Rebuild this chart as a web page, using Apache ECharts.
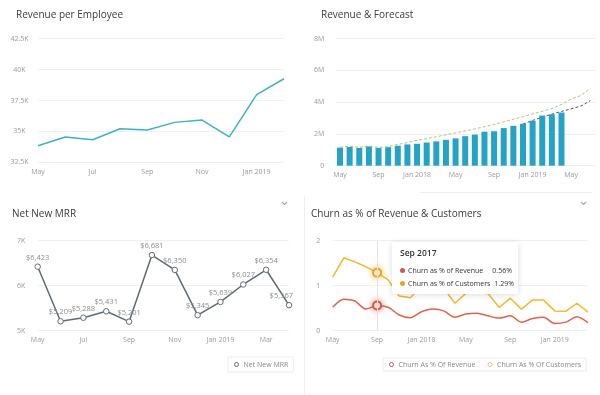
<!DOCTYPE html>
<html>
<head>
<meta charset="utf-8">
<script src="https://cdn.jsdelivr.net/npm/echarts@6/dist/echarts.min.js"></script>
<style>
html,body{margin:0;padding:0;background:#fff;}
#c{width:600px;height:395px;}
</style>
</head>
<body>
<div id="c"></div>
<script>
// ---------- data ----------
const rpeMonths = ['May 2018','Jun 2018','Jul 2018','Aug 2018','Sep 2018','Oct 2018','Nov 2018','Dec 2018','Jan 2019','Feb 2019'];
const rpeValues = [33840, 34550, 34330, 35220, 35110, 35730, 35920, 34550, 37970, 39260];

const revMonths = ['May 2017','Jun 2017','Jul 2017','Aug 2017','Sep 2017','Oct 2017','Nov 2017','Dec 2017',
  'Jan 2018','Feb 2018','Mar 2018','Apr 2018','May 2018','Jun 2018','Jul 2018','Aug 2018','Sep 2018','Oct 2018','Nov 2018','Dec 2018',
  'Jan 2019','Feb 2019','Mar 2019','Apr 2019','May 2019','Jun 2019','Jul 2019'];
const revenueBars = [1.14, 1.18, 1.12, 1.22, 1.12, 1.17, 1.26, 1.34, 1.38, 1.46, 1.53, 1.63, 1.72, 1.86, 1.96, 2.14, 2.17, 2.37, 2.51, 2.64, 2.83, 3.16, 3.24, 3.35];
const forecastHigh = [1.17, 1.23, 1.16, 1.24, 1.15, 1.20, 1.34, 1.46, 1.60, 1.70, 1.82, 1.95, 2.07, 2.19, 2.32, 2.45, 2.60, 2.76, 2.93, 3.08, 3.26, 3.43, 3.60, 3.86, 4.20, 4.42, 4.87];
const forecastLow = [null, null, null, null, null, null, null, null, null, null, null, null, null, null, null, null, null, null, null, 2.62, 2.85, 3.05, 3.25, 3.42, 3.58, 3.75, 4.10];

const mrrMonths = ['May 2018','Jun 2018','Jul 2018','Aug 2018','Sep 2018','Oct 2018','Nov 2018','Dec 2018','Jan 2019','Feb 2019','Mar 2019','Apr 2019'];
const mrrValues = [6423, 5209, 5288, 5431, 5201, 6681, 6350, 5345, 5639, 6027, 6354, 5567];

const churnMonths = ['May 2017','Jun 2017','Jul 2017','Aug 2017','Sep 2017','Oct 2017','Nov 2017','Dec 2017',
  'Jan 2018','Feb 2018','Mar 2018','Apr 2018','May 2018','Jun 2018','Jul 2018','Aug 2018','Sep 2018','Oct 2018','Nov 2018','Dec 2018',
  'Jan 2019','Feb 2019','Mar 2019','Apr 2019'];
const churnRevenue = [0.52, 0.70, 0.66, 0.48, 0.56, 0.52, 0.35, 0.29, 0.42, 0.48, 0.44, 0.30, 0.37, 0.39, 0.33, 0.28, 0.33, 0.19, 0.27, 0.30, 0.16, 0.19, 0.31, 0.18];
const churnCustomers = [1.19, 1.62, 1.53, 1.42, 1.29, 1.13, 0.77, 0.73, 1.00, 1.05, 0.95, 0.61, 0.83, 0.86, 0.82, 0.52, 0.72, 0.48, 0.68, 0.68, 0.44, 0.43, 0.61, 0.41];
const churnLegendNames = ['Churn As % Of Revenue', 'Churn As % Of Customers'];
const churnTooltipNames = ['Churn as % of Revenue', 'Churn as % of Customers'];
const tooltipIndex = 4;

const titles = ['Revenue per Employee', 'Revenue & Forecast', 'Net New MRR', 'Churn as % of Revenue & Customers'];

// ---------- styling ----------
const FONT = 'Open Sans';
const LABEL = '#9a9a9a';
const GRIDC = '#f0f0f0';
const cRev = '#cc5a44';
const cCust = '#e2a62c';
const cMrr = '#5f6b74';

function monthFmt(v) { return v.indexOf('Jan') === 0 ? v : v.split(' ')[0]; }
function comma(n) { return String(n).replace(/\B(?=(\d{3})+(?!\d))/g, ','); }

function xAxis(grid, data, interval, bgap) {
  return {
    type: 'category', gridIndex: grid, data: data, boundaryGap: bgap,
    axisLine: { show: false }, axisTick: { show: false },
    axisLabel: { interval: interval, color: LABEL, fontFamily: FONT, fontSize: 7, margin: 6, formatter: monthFmt },
    splitLine: { show: false }
  };
}
function yAxis(grid, min, max, interval, fmt, align, margin) {
  return {
    type: 'value', gridIndex: grid, min: min, max: max, interval: interval,
    axisLine: { show: false }, axisTick: { show: false },
    axisLabel: { color: LABEL, fontFamily: FONT, fontSize: 7, formatter: fmt, align: align, margin: margin },
    splitLine: { show: true, lineStyle: { color: GRIDC, width: 1 } }
  };
}

const chart = echarts.init(document.getElementById('c'), null, { renderer: 'canvas' });

const titleGraphics = [
  { x: 16, y: 15 }, { x: 321, y: 15 }, { x: 12, y: 214 }, { x: 311, y: 214 }
].map((p, i) => ({
  type: 'text', x: p.x, y: p.y, silent: true,
  style: { text: titles[i], fill: '#3a3a3a', font: '10px "' + FONT + '"', verticalAlign: 'middle' }
}));

const chevron = (x, y) => ({
  type: 'polyline', x: x, y: y, silent: true,
  shape: { points: [[-2.5, -1.5], [0, 1], [2.5, -1.5]] },
  style: { stroke: '#a8a8a8', lineWidth: 1.2, fill: null }
});

const legendBase = {
  itemWidth: 4, itemHeight: 4, icon: 'circle',
  borderColor: '#ececec', borderWidth: 1, backgroundColor: '#fff',
  textStyle: { color: '#888', fontSize: 7, fontFamily: FONT, padding: [0, 0, 0, 0] }
};

const option = {
  animation: false,
  textStyle: { fontFamily: FONT },
  grid: [
    { left: 38, top: 38.7, width: 246, height: 123.6 },
    { left: 335.2, top: 38.7, width: 260, height: 127 },
    { left: 37.7, top: 240.7, width: 251.3, height: 90 },
    { left: 332.7, top: 240.7, width: 255.3, height: 90 }
  ],
  xAxis: [
    xAxis(0, rpeMonths, 1, false),
    xAxis(1, revMonths, 3, true),
    xAxis(2, mrrMonths, 1, false),
    xAxis(3, churnMonths, 3, false)
  ],
  yAxis: [
    yAxis(0, 32500, 42500, 2500, v => (v / 1000) + 'K', 'center', 18.5),
    yAxis(1, 0, 8, 2, v => v === 0 ? '0' : v + 'M', 'right', 11),
    yAxis(2, 5000, 7000, 1000, v => (v / 1000) + 'K', 'right', 12.5),
    yAxis(3, 0, 2, 1, v => String(v), 'right', 12.5)
  ],
  tooltip: {
    trigger: 'axis',
    alwaysShowContent: true,
    showDelay: 0,
    transitionDuration: 0,
    position: [392, 242],
    padding: 0,
    borderWidth: 0,
    backgroundColor: 'rgba(255,255,255,0.98)',
    extraCssText: 'box-shadow:0 1px 6px rgba(0,0,0,0.14);border-radius:2px;',
    axisPointer: { type: 'line', lineStyle: { color: '#e3e3e3', width: 1, type: 'solid' } },
    formatter: function (params) {
      const rows = params.map(p => {
        const i = p.seriesIndex - 5;
        return '<div style="display:flex;justify-content:space-between;align-items:center;height:13px;line-height:13px;white-space:nowrap;">' +
          '<span style="display:flex;align-items:center;"><span style="display:inline-block;width:5px;height:5px;border-radius:50%;background:' + p.color + ';margin-right:3px;"></span>' +
          '<span style="color:#333;">' + churnTooltipNames[i] + '</span></span>' +
          '<span style="color:#333;margin-left:4px;">' + p.value.toFixed(2) + '%</span></div>';
      }).join('');
      return '<div style="width:112px;padding:4px 6px 4px 8px;font-family:\'Open Sans\';font-size:7px;">' +
        '<div style="height:14px;line-height:14px;font-size:8.5px;font-weight:600;color:#333;margin-bottom:4px;">' + params[0].axisValue + '</div>' +
        rows + '</div>';
    }
  },
  legend: [
    Object.assign({}, legendBase, {
      data: [{ name: 'Net New MRR', itemStyle: { color: '#fff', borderColor: cMrr, borderWidth: 1 } }],
      left: 228, top: 357, padding: [4, 5, 4, 6], itemGap: 4
    }),
    Object.assign({}, legendBase, {
      data: [
        { name: churnLegendNames[0], itemStyle: { color: '#fff', borderColor: cRev, borderWidth: 1 } },
        { name: churnLegendNames[1], itemStyle: { color: '#fff', borderColor: '#e8c46a', borderWidth: 1 } }
      ],
      left: 383, top: 358, padding: [3, 5, 3, 6], itemGap: 12
    })
  ],
  series: [
    {
      type: 'line', name: 'Revenue per Employee', xAxisIndex: 0, yAxisIndex: 0, data: rpeValues,
      showSymbol: false, symbol: 'none', lineStyle: { color: '#3db1ca', width: 1.5 }, itemStyle: { color: '#3db1ca' }
    },
    {
      type: 'bar', name: 'Revenue', xAxisIndex: 1, yAxisIndex: 1, data: revenueBars,
      barWidth: 6, itemStyle: { color: '#24a3c7' }, z: 2
    },
    {
      type: 'line', name: 'Forecast High', xAxisIndex: 1, yAxisIndex: 1, data: forecastHigh,
      showSymbol: false, symbol: 'none', z: 3,
      lineStyle: { color: '#b3c272', width: 1, type: [3, 2] }, itemStyle: { color: '#b3c272' }
    },
    {
      type: 'line', name: 'Forecast', xAxisIndex: 1, yAxisIndex: 1, data: forecastLow,
      showSymbol: false, symbol: 'none', z: 1,
      lineStyle: { color: '#4f5e6b', width: 1, type: [3, 2] }, itemStyle: { color: '#4f5e6b' }
    },
    {
      type: 'line', name: 'Net New MRR', xAxisIndex: 2, yAxisIndex: 2, data: mrrValues,
      symbol: 'circle', symbolSize: 5.5, showSymbol: true,
      lineStyle: { color: cMrr, width: 1.5 }, itemStyle: { color: '#fff', borderColor: cMrr, borderWidth: 1 },
      label: {
        show: true, position: 'top', distance: 2, color: '#8c8c8c', fontSize: 7.5, fontFamily: FONT,
        formatter: p => '$' + comma(p.value)
      },
      labelLayout: function (params) {
        const r = params.labelRect;
        const over = r.x + r.width - 293;
        return over > 0 ? { dx: -over } : {};
      },
      emphasis: { disabled: true }
    },
    {
      type: 'line', name: churnLegendNames[0], xAxisIndex: 3, yAxisIndex: 3, data: churnRevenue,
      smooth: 0.3, symbol: 'emptyCircle', symbolSize: 8, showSymbol: false,
      lineStyle: { color: cRev, width: 1.5 }, itemStyle: { color: cRev, borderWidth: 1.5 },
      emphasis: { scale: false, lineStyle: { width: 1.5 }, itemStyle: { shadowBlur: 6, shadowColor: 'rgba(220,90,70,0.7)' } }
    },
    {
      type: 'line', name: churnLegendNames[1], xAxisIndex: 3, yAxisIndex: 3, data: churnCustomers,
      symbol: 'emptyCircle', symbolSize: 8, showSymbol: false,
      lineStyle: { color: cCust, width: 1.5 }, itemStyle: { color: cCust, borderWidth: 1.5 },
      emphasis: { scale: false, lineStyle: { width: 1.5 }, itemStyle: { shadowBlur: 6, shadowColor: 'rgba(240,180,40,0.8)' } }
    }
  ],
  graphic: titleGraphics.concat([
    chevron(284.5, 203.5),
    chevron(583.5, 203.5),
    { type: 'line', silent: true, shape: { x1: 304.5, y1: 196, x2: 304.5, y2: 395 }, style: { stroke: '#eeeeee', lineWidth: 1 } },
    { type: 'line', silent: true, shape: { x1: 420, y1: 192.5, x2: 592, y2: 192.5 }, style: { stroke: '#efefef', lineWidth: 1 } }
  ])
};

chart.setOption(option);
chart.dispatchAction({ type: 'showTip', seriesIndex: 5, dataIndex: tooltipIndex });
</script>
</body>
</html>
